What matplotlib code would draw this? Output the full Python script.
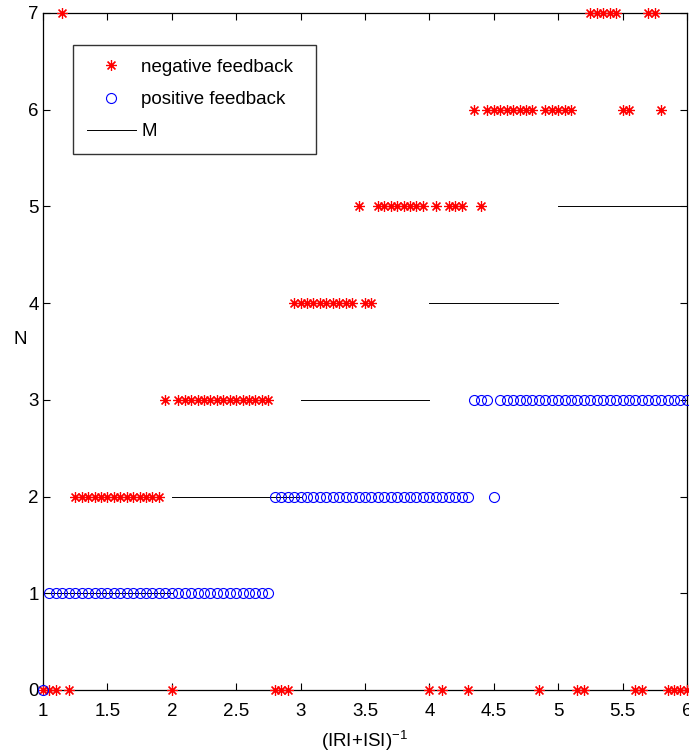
import numpy as np
import matplotlib
matplotlib.use('Agg')
import matplotlib.pyplot as plt

plt.rcParams['font.family'] = ['Liberation Sans', 'DejaVu Sans']
plt.rcParams['mathtext.default'] = 'regular'

# negative feedback (red asterisks)
neg_x = [1.00, 1.05, 1.10, 1.15, 1.20,
         1.25, 1.30, 1.35, 1.40, 1.45, 1.50, 1.55, 1.60, 1.65, 1.70, 1.75, 1.80, 1.85, 1.90,
         1.95, 2.00,
         2.05, 2.10, 2.15, 2.20, 2.25, 2.30, 2.35, 2.40, 2.45, 2.50, 2.55, 2.60, 2.65, 2.70, 2.75,
         2.80, 2.85, 2.90,
         2.95, 3.00, 3.05, 3.10, 3.15, 3.20, 3.25, 3.30, 3.35, 3.40,
         3.45, 3.50, 3.55,
         3.60, 3.65, 3.70, 3.75, 3.80, 3.85, 3.90, 3.95,
         4.00, 4.05, 4.10, 4.15, 4.20, 4.25, 4.30, 4.35, 4.40,
         4.45, 4.50, 4.55, 4.60, 4.65, 4.70, 4.75, 4.80,
         4.85, 4.90, 4.95, 5.00, 5.05, 5.10,
         5.15, 5.20, 5.25, 5.30, 5.35, 5.40, 5.45,
         5.50, 5.55, 5.60, 5.65, 5.70, 5.75, 5.80,
         5.85, 5.90, 5.95, 6.00]
neg_n = [0, 0, 0, 7, 0,
         2, 2, 2, 2, 2, 2, 2, 2, 2, 2, 2, 2, 2, 2,
         3, 0,
         3, 3, 3, 3, 3, 3, 3, 3, 3, 3, 3, 3, 3, 3, 3,
         0, 0, 0,
         4, 4, 4, 4, 4, 4, 4, 4, 4, 4,
         5, 4, 4,
         5, 5, 5, 5, 5, 5, 5, 5,
         0, 5, 0, 5, 5, 5, 0, 6, 5,
         6, 6, 6, 6, 6, 6, 6, 6,
         0, 6, 6, 6, 6, 6,
         0, 0, 7, 7, 7, 7, 7,
         6, 6, 0, 0, 7, 7, 6,
         0, 0, 0, 0]

# positive feedback (blue circles)
pos_x = [1.00,
         1.05, 1.10, 1.15, 1.20, 1.25, 1.30, 1.35, 1.40, 1.45, 1.50, 1.55, 1.60, 1.65, 1.70,
         1.75, 1.80, 1.85, 1.90, 1.95, 2.00, 2.05, 2.10, 2.15, 2.20, 2.25, 2.30, 2.35, 2.40,
         2.45, 2.50, 2.55, 2.60, 2.65, 2.70, 2.75,
         2.80, 2.85, 2.90, 2.95, 3.00, 3.05, 3.10, 3.15, 3.20, 3.25, 3.30, 3.35, 3.40, 3.45,
         3.50, 3.55, 3.60, 3.65, 3.70, 3.75, 3.80, 3.85, 3.90, 3.95, 4.00, 4.05, 4.10, 4.15,
         4.20, 4.25, 4.30,
         4.35, 4.40, 4.45, 4.50,
         4.55, 4.60, 4.65, 4.70, 4.75, 4.80, 4.85, 4.90, 4.95, 5.00, 5.05, 5.10, 5.15, 5.20,
         5.25, 5.30, 5.35, 5.40, 5.45, 5.50, 5.55, 5.60, 5.65, 5.70, 5.75, 5.80, 5.85, 5.90,
         5.95, 6.00]
pos_n = [0] + [1] * 35 + [2] * 31 + [3, 3, 3, 2] + [3] * 30

# M: horizontal segments
m_start = [1, 2, 3, 4, 5]
m_end = [2, 3, 4, 5, 6]
m_level = [1, 2, 3, 4, 5]

fig = plt.figure(figsize=(6.89, 7.54), dpi=100)
ax = fig.add_axes([0.0624, 0.0849, 0.9346, 0.8979])

ax.plot(neg_x, neg_n, linestyle='none', marker=(8, 2, 0), markersize=7.8,
        markeredgewidth=0.85, color='#ff0000', clip_on=False, label='negative feedback', zorder=3)
ax.plot(pos_x, pos_n, linestyle='none', marker='o', markersize=7.2, markerfacecolor='none',
        markeredgewidth=0.8, markeredgecolor='#0000ff', clip_on=False, label='positive feedback', zorder=3)
for i in range(len(m_level)):
    ax.plot([m_start[i], m_end[i]], [m_level[i], m_level[i]], color='black', linewidth=0.7,
            label='M' if i == 0 else None, zorder=2)

ax.set_xlim(1, 6)
ax.set_ylim(0, 7)
ax.set_xticks([1, 1.5, 2, 2.5, 3, 3.5, 4, 4.5, 5, 5.5, 6])
ax.set_xticklabels(['1', '1.5', '2', '2.5', '3', '3.5', '4', '4.5', '5', '5.5', '6'])
ax.set_yticks(range(8))
ax.tick_params(direction='in', top=True, right=True, length=5, width=0.8, labelsize=13.5)
ax.tick_params(axis='x', pad=9.5)
ax.tick_params(axis='y', pad=3)
for s in ax.spines.values():
    s.set_linewidth(0.9)
    s.set_color('black')

ax.set_xlabel('(IRI+ISI)$^{-1}$', fontsize=13.5, labelpad=6.5)
ax.set_ylabel('N', fontsize=13.5, rotation=0, ha='center', va='center')
ax.yaxis.set_label_coords(-0.036, 0.517)

leg = ax.legend(loc='upper left', bbox_to_anchor=(0.0466, 0.7965, 0.3773, 0.1565),
                mode='expand', borderaxespad=0,
                fontsize=13.5, numpoints=1, handlelength=2.6, handletextpad=0.3,
                labelspacing=0.8, borderpad=0.75, fancybox=False, edgecolor='black')
leg.get_frame().set_linewidth(1.0)

fig.savefig('out.png', dpi=100)
